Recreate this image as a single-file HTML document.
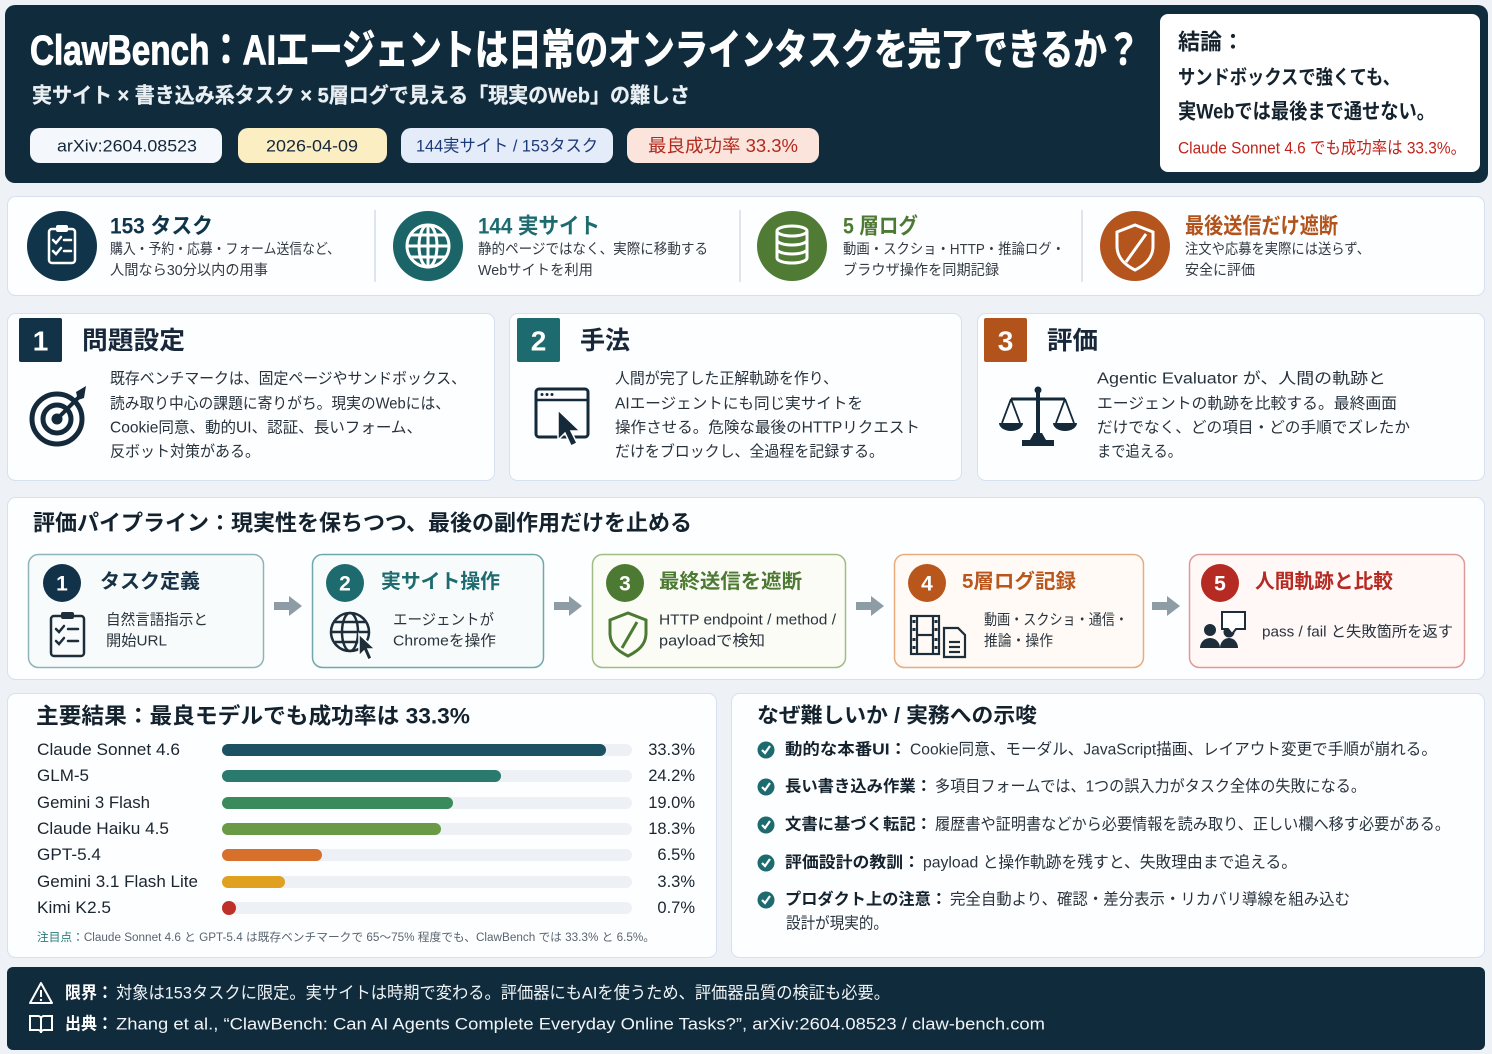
<!DOCTYPE html>
<html><head><meta charset="utf-8">
<style>
html,body{margin:0;padding:0;background:#eef2f6;}
svg{display:block;}
text{font-family:"Liberation Sans","Noto Sans CJK JP",sans-serif;dominant-baseline:central;}
.b{font-weight:700;}
</style></head>
<body>
<svg width="1492" height="1054" viewBox="0 0 1492 1054" xmlns="http://www.w3.org/2000/svg">
<rect x="0" y="0" width="1492" height="1054" fill="#eef2f6"/>

<!-- HEADER -->
<rect x="5" y="5" width="1483" height="178" rx="10" fill="#0f2b3c"/>
<text x="30" y="50" class="b" font-size="42" fill="#ffffff" stroke="#ffffff" stroke-width="1" textLength="1110" lengthAdjust="spacingAndGlyphs">ClawBench：AIエージェントは日常のオンラインタスクを完了できるか？</text>
<text x="32" y="96" class="b" font-size="21" fill="#e9eff3" stroke="#e9eff3" stroke-width="0.3" textLength="658" lengthAdjust="spacingAndGlyphs">実サイト × 書き込み系タスク × 5層ログで見える「現実のWeb」の難しさ</text>

<rect x="30" y="128" width="192" height="35" rx="10" fill="#f4f7fb"/>
<text x="57" y="146" font-size="17" fill="#14263a" textLength="140" lengthAdjust="spacingAndGlyphs">arXiv:2604.08523</text>
<rect x="238" y="128" width="149" height="35" rx="10" fill="#fbeec3"/>
<text x="266" y="146" font-size="17" fill="#14263a" textLength="92" lengthAdjust="spacingAndGlyphs">2026-04-09</text>
<rect x="401" y="128" width="212" height="35" rx="10" fill="#e5ecf9"/>
<text x="416" y="146" font-size="17" fill="#1d3a78" textLength="182" lengthAdjust="spacingAndGlyphs">144実サイト / 153タスク</text>
<rect x="627" y="128" width="192" height="35" rx="10" fill="#fbe4dc"/>
<text x="648" y="146" font-size="18" fill="#b22a1e" textLength="150" lengthAdjust="spacingAndGlyphs">最良成功率 33.3%</text>

<rect x="1160" y="14" width="320" height="158" rx="8" fill="#ffffff"/>
<text x="1178" y="42" class="b" font-size="22" fill="#14222e">結論：</text>
<text x="1178" y="78" class="b" font-size="20" fill="#14222e" textLength="222" lengthAdjust="spacingAndGlyphs">サンドボックスで強くても、</text>
<text x="1178" y="112" class="b" font-size="21" fill="#14222e" textLength="257" lengthAdjust="spacingAndGlyphs">実Webでは最後まで通せない。</text>
<text x="1178" y="148" font-size="17" fill="#c0241b" textLength="288" lengthAdjust="spacingAndGlyphs">Claude Sonnet 4.6 でも成功率は 33.3%。</text>

<!-- STATS ROW -->
<rect x="7.5" y="196.5" width="1477" height="99" rx="8" fill="#fdfeff" stroke="#d6e0ee"/>
<line x1="375" y1="210" x2="375" y2="282" stroke="#d5dde8" stroke-width="1.5"/>
<line x1="740" y1="210" x2="740" y2="282" stroke="#d5dde8" stroke-width="1.5"/>
<line x1="1082" y1="210" x2="1082" y2="282" stroke="#d5dde8" stroke-width="1.5"/>

<circle cx="62" cy="246" r="35" fill="#10344a"/>
<g stroke="#fff" stroke-width="2.5" fill="none" stroke-linecap="round">
<rect x="49" y="229" width="26" height="34" rx="3"/>
<polyline points="53,240 56,243 61,237"/><line x1="64" y1="240" x2="71" y2="240"/>
<polyline points="53,251 56,254 61,248"/><line x1="64" y1="251" x2="71" y2="251"/>
</g>
<rect x="56" y="225" width="12" height="7" rx="2" fill="#fff"/>

<circle cx="428" cy="246" r="35" fill="#1b6568"/>
<g stroke="#fff" stroke-width="3" fill="none">
<circle cx="428" cy="246" r="21"/><ellipse cx="428" cy="246" rx="9" ry="21"/>
<line x1="407" y1="246" x2="449" y2="246"/><line x1="428" y1="225" x2="428" y2="267"/>
<line x1="411" y1="235" x2="445" y2="235"/><line x1="411" y1="257" x2="445" y2="257"/>
</g>

<circle cx="792" cy="246" r="35" fill="#4f7b34"/>
<g stroke="#fff" stroke-width="3" fill="none">
<ellipse cx="792" cy="231" rx="15" ry="5"/>
<path d="M777,231 v27 a15,5 0 0 0 30,0 v-27"/>
<path d="M777,240 a15,5 0 0 0 30,0"/><path d="M777,249 a15,5 0 0 0 30,0"/>
</g>

<circle cx="1135" cy="246" r="35" fill="#b4551d"/>
<path d="M1135,225 L1153,232 V246 C1153,258 1145,265 1135,270 C1125,265 1117,258 1117,246 V232 Z" stroke="#fff" stroke-width="3" fill="none"/>
<line x1="1146" y1="234" x2="1126" y2="262" stroke="#fff" stroke-width="3"/>

<text x="110" y="226" class="b" font-size="22" fill="#10344a" textLength="103" lengthAdjust="spacingAndGlyphs">153 タスク</text>
<text x="110" y="250" font-size="14.5" fill="#333b44" textLength="230" lengthAdjust="spacingAndGlyphs">購入・予約・応募・フォーム送信など、</text>
<text x="110" y="271" font-size="14.5" fill="#333b44" textLength="158" lengthAdjust="spacingAndGlyphs">人間なら30分以内の用事</text>

<text x="478" y="226" class="b" font-size="22" fill="#1d6b6e" textLength="122" lengthAdjust="spacingAndGlyphs">144 実サイト</text>
<text x="478" y="250" font-size="14.5" fill="#333b44" textLength="230" lengthAdjust="spacingAndGlyphs">静的ページではなく、実際に移動する</text>
<text x="478" y="271" font-size="14.5" fill="#333b44" textLength="115" lengthAdjust="spacingAndGlyphs">Webサイトを利用</text>

<text x="843" y="226" class="b" font-size="22" fill="#4d7a33" textLength="75" lengthAdjust="spacingAndGlyphs">5 層ログ</text>
<text x="843" y="250" font-size="14.5" fill="#333b44" textLength="222" lengthAdjust="spacingAndGlyphs">動画・スクショ・HTTP・推論ログ・</text>
<text x="843" y="271" font-size="14.5" fill="#333b44" textLength="156" lengthAdjust="spacingAndGlyphs">ブラウザ操作を同期記録</text>

<text x="1185" y="226" class="b" font-size="22" fill="#b3531c" textLength="153" lengthAdjust="spacingAndGlyphs">最後送信だけ遮断</text>
<text x="1185" y="250" font-size="14.5" fill="#333b44" textLength="185" lengthAdjust="spacingAndGlyphs">注文や応募を実際には送らず、</text>
<text x="1185" y="271" font-size="14.5" fill="#333b44" textLength="70" lengthAdjust="spacingAndGlyphs">安全に評価</text>

<!-- CARDS -->
<rect x="7.5" y="313.5" width="487" height="167" rx="8" fill="#fdfeff" stroke="#d6e0ee"/>
<rect x="509.5" y="313.5" width="452" height="167" rx="8" fill="#fdfeff" stroke="#d6e0ee"/>
<rect x="977.5" y="313.5" width="507" height="167" rx="8" fill="#fdfeff" stroke="#d6e0ee"/>

<rect x="19" y="318" width="43" height="44" rx="2" fill="#123247"/>
<text x="40.5" y="341" class="b" font-size="28" fill="#fff" text-anchor="middle">1</text>
<text x="82" y="341" class="b" font-size="25" fill="#18283a" textLength="103" lengthAdjust="spacingAndGlyphs">問題設定</text>
<rect x="517" y="318" width="43" height="44" rx="2" fill="#1d6b6e"/>
<text x="538.5" y="341" class="b" font-size="28" fill="#fff" text-anchor="middle">2</text>
<text x="580" y="341" class="b" font-size="25" fill="#18283a" textLength="50" lengthAdjust="spacingAndGlyphs">手法</text>
<rect x="984" y="318" width="43" height="44" rx="2" fill="#b3531c"/>
<text x="1005.5" y="341" class="b" font-size="28" fill="#fff" text-anchor="middle">3</text>
<text x="1047" y="341" class="b" font-size="25" fill="#18283a" textLength="51" lengthAdjust="spacingAndGlyphs">評価</text>

<!-- target icon -->
<g stroke="#14293a" fill="none" stroke-width="5">
<circle cx="57" cy="419" r="25"/><circle cx="57" cy="419" r="14"/>
</g>
<circle cx="57" cy="419" r="5.5" fill="#14293a"/>
<line x1="57" y1="419" x2="80" y2="396" stroke="#14293a" stroke-width="4"/>
<polygon points="76,392 86,386 84,398 78,400" fill="#14293a"/>
<!-- browser icon -->
<rect x="536" y="389" width="52" height="48" rx="3" stroke="#14293a" stroke-width="3" fill="none"/>
<line x1="536" y1="400" x2="588" y2="400" stroke="#14293a" stroke-width="2.5"/>
<circle cx="542" cy="394.5" r="1.5" fill="#14293a"/><circle cx="547" cy="394.5" r="1.5" fill="#14293a"/><circle cx="552" cy="394.5" r="1.5" fill="#14293a"/>
<polygon points="558,410 558,440 565,433 571,446 577,443 571,431 580,431" fill="#14293a" stroke="#fff" stroke-width="1.5"/>
<!-- scale icon -->
<g fill="#14293a" stroke="#14293a">
<rect x="1036" y="391" width="4" height="49" stroke="none"/>
<circle cx="1038" cy="390" r="3.5" stroke="none"/>
<line x1="1011" y1="399" x2="1065" y2="399" stroke-width="3"/>
<rect x="1022" y="440" width="32" height="6" stroke="none"/>
<polygon points="1030,440 1046,440 1042,433 1034,433" stroke="none"/>
<line x1="1011" y1="399" x2="1002" y2="423" stroke-width="1.8"/><line x1="1011" y1="399" x2="1020" y2="423" stroke-width="1.8"/>
<line x1="1065" y1="399" x2="1056" y2="423" stroke-width="1.8"/><line x1="1065" y1="399" x2="1074" y2="423" stroke-width="1.8"/>
<path d="M999,423 a12,8 0 0 0 24,0 Z" stroke="none"/>
<path d="M1053,423 a12,8 0 0 0 24,0 Z" stroke="none"/>
</g>

<g font-size="15.5" fill="#28323c">
<text x="110" y="379" textLength="356" lengthAdjust="spacingAndGlyphs">既存ベンチマークは、固定ページやサンドボックス、</text>
<text x="110" y="404" textLength="340" lengthAdjust="spacingAndGlyphs">読み取り中心の課題に寄りがち。現実のWebには、</text>
<text x="110" y="428" textLength="312" lengthAdjust="spacingAndGlyphs">Cookie同意、動的UI、認証、長いフォーム、</text>
<text x="110" y="452" textLength="150" lengthAdjust="spacingAndGlyphs">反ボット対策がある。</text>
<text x="615" y="379" textLength="223" lengthAdjust="spacingAndGlyphs">人間が完了した正解軌跡を作り、</text>
<text x="615" y="404" textLength="248" lengthAdjust="spacingAndGlyphs">AIエージェントにも同じ実サイトを</text>
<text x="615" y="428" textLength="305" lengthAdjust="spacingAndGlyphs">操作させる。危険な最後のHTTPリクエスト</text>
<text x="615" y="452" textLength="269" lengthAdjust="spacingAndGlyphs">だけをブロックし、全過程を記録する。</text>
<text x="1097" y="379" textLength="289" lengthAdjust="spacingAndGlyphs">Agentic Evaluator が、人間の軌跡と</text>
<text x="1097" y="404" textLength="300" lengthAdjust="spacingAndGlyphs">エージェントの軌跡を比較する。最終画面</text>
<text x="1097" y="428" textLength="313" lengthAdjust="spacingAndGlyphs">だけでなく、どの項目・どの手順でズレたか</text>
<text x="1097" y="452" textLength="85" lengthAdjust="spacingAndGlyphs">まで追える。</text>
</g>

<!-- PIPELINE -->
<rect x="7.5" y="497.5" width="1477" height="182" rx="8" fill="#fdfeff" stroke="#d6e0ee"/>
<text x="33" y="523" class="b" font-size="22" fill="#14222e" textLength="659" lengthAdjust="spacingAndGlyphs">評価パイプライン：現実性を保ちつつ、最後の副作用だけを止める</text>

<rect x="28.5" y="554.5" width="235" height="113" rx="10" fill="#f8fbfb" stroke="#8fb3b8" stroke-width="1.5"/>
<rect x="312.5" y="554.5" width="231" height="113" rx="10" fill="#f7fbfb" stroke="#6fa8aa" stroke-width="1.5"/>
<rect x="592.5" y="554.5" width="253" height="113" rx="10" fill="#fbfcf6" stroke="#a2bb84" stroke-width="1.5"/>
<rect x="894.5" y="554.5" width="249" height="113" rx="10" fill="#fffaf5" stroke="#e8ab7c" stroke-width="1.5"/>
<rect x="1189.5" y="554.5" width="275" height="113" rx="10" fill="#fff8f7" stroke="#e09a96" stroke-width="1.5"/>

<g fill="#8e9ca5">
<polygon points="274,602 289,602 289,596 302,606 289,616 289,610 274,610"/>
<polygon points="554,602 569,602 569,596 582,606 569,616 569,610 554,610"/>
<polygon points="856,602 871,602 871,596 884,606 871,616 871,610 856,610"/>
<polygon points="1152,602 1167,602 1167,596 1180,606 1167,616 1167,610 1152,610"/>
</g>

<circle cx="62" cy="583" r="19" fill="#12324a"/><text x="62" y="584" class="b" font-size="21" fill="#fff" text-anchor="middle">1</text>
<circle cx="345" cy="583" r="19" fill="#1d6b6e"/><text x="345" y="584" class="b" font-size="21" fill="#fff" text-anchor="middle">2</text>
<circle cx="625" cy="583" r="19" fill="#4d7a33"/><text x="625" y="584" class="b" font-size="21" fill="#fff" text-anchor="middle">3</text>
<circle cx="927" cy="583" r="19" fill="#b8561c"/><text x="927" y="584" class="b" font-size="21" fill="#fff" text-anchor="middle">4</text>
<circle cx="1220" cy="583" r="19" fill="#b52a22"/><text x="1220" y="584" class="b" font-size="21" fill="#fff" text-anchor="middle">5</text>

<text x="100" y="582" class="b" font-size="20" fill="#173246" textLength="100" lengthAdjust="spacingAndGlyphs">タスク定義</text>
<text x="381" y="582" class="b" font-size="20" fill="#1d6b6e" textLength="119" lengthAdjust="spacingAndGlyphs">実サイト操作</text>
<text x="659" y="582" class="b" font-size="20" fill="#4d7a33" textLength="143" lengthAdjust="spacingAndGlyphs">最終送信を遮断</text>
<text x="962" y="582" class="b" font-size="20" fill="#b8561c" textLength="114" lengthAdjust="spacingAndGlyphs">5層ログ記録</text>
<text x="1255" y="582" class="b" font-size="20" fill="#b52a22" textLength="138" lengthAdjust="spacingAndGlyphs">人間軌跡と比較</text>

<g font-size="15" fill="#2a343e">
<text x="106" y="620" textLength="102" lengthAdjust="spacingAndGlyphs">自然言語指示と</text>
<text x="106" y="641" textLength="61" lengthAdjust="spacingAndGlyphs">開始URL</text>
<text x="393" y="620" textLength="101" lengthAdjust="spacingAndGlyphs">エージェントが</text>
<text x="393" y="641" textLength="103" lengthAdjust="spacingAndGlyphs">Chromeを操作</text>
<text x="659" y="620" textLength="177" lengthAdjust="spacingAndGlyphs">HTTP endpoint / method /</text>
<text x="659" y="641" textLength="106" lengthAdjust="spacingAndGlyphs">payloadで検知</text>
<text x="984" y="620" textLength="144" lengthAdjust="spacingAndGlyphs">動画・スクショ・通信・</text>
<text x="984" y="641" textLength="69" lengthAdjust="spacingAndGlyphs">推論・操作</text>
<text x="1262" y="632" textLength="191" lengthAdjust="spacingAndGlyphs">pass / fail と失敗箇所を返す</text>
</g>

<!-- pipeline icons -->
<g stroke="#1d2d3a" stroke-width="2.5" fill="none" stroke-linecap="round">
<rect x="51" y="616" width="33" height="40" rx="3"/>
<polyline points="56,629 59,632 64,626"/><line x1="68" y1="629" x2="78" y2="629"/>
<polyline points="56,641 59,644 64,638"/><line x1="68" y1="641" x2="78" y2="641"/>
</g>
<rect x="61" y="612" width="13" height="7" rx="2" fill="#1d2d3a"/>

<g stroke="#1d2d3a" stroke-width="2.5" fill="none">
<circle cx="350" cy="632" r="19"/><ellipse cx="350" cy="632" rx="8" ry="19"/>
<line x1="331" y1="632" x2="369" y2="632"/><line x1="335" y1="622" x2="365" y2="622"/><line x1="335" y1="642" x2="365" y2="642"/>
</g>
<polygon points="359,634 359,656 364,651 368,660 372,658 368,649 375,649" fill="#1d2d3a" stroke="#fff" stroke-width="1.5"/>

<path d="M628,613 L646,620 V633 C646,645 638,651 628,656 C618,651 610,645 610,633 V620 Z" stroke="#4d7a33" stroke-width="3" fill="none"/>
<line x1="637" y1="622" x2="622" y2="648" stroke="#4d7a33" stroke-width="3"/>

<g stroke="#1d2d3a" stroke-width="2.2" fill="none">
<rect x="911" y="616" width="28" height="38"/>
<line x1="917" y1="616" x2="917" y2="654"/><line x1="933" y1="616" x2="933" y2="654"/>
<line x1="917" y1="635" x2="933" y2="635"/>
<path d="M944,628 h14 l7,7 v22 h-21 Z"/>
<line x1="949" y1="642" x2="960" y2="642"/><line x1="949" y1="647" x2="960" y2="647"/><line x1="949" y1="652" x2="960" y2="652"/>
</g>
<g fill="#1d2d3a">
<rect x="912.5" y="620" width="3" height="3"/><rect x="912.5" y="628" width="3" height="3"/><rect x="912.5" y="638" width="3" height="3"/><rect x="912.5" y="646" width="3" height="3"/>
<rect x="934.5" y="620" width="3" height="3"/><rect x="934.5" y="628" width="3" height="3"/><rect x="934.5" y="638" width="3" height="3"/><rect x="934.5" y="646" width="3" height="3"/>
</g>

<g fill="#1d2d3a">
<circle cx="1210" cy="630" r="6"/><path d="M1200,648 a10,10 0 0 1 20,0 Z"/>
<circle cx="1229" cy="632" r="5.5"/><path d="M1220,648 a9,10 0 0 1 18,0 Z"/>
</g>
<path d="M1222,612 h23 v17 h-9 l-4,5 l-4,-5 h-6 Z" stroke="#1d2d3a" stroke-width="2" fill="#fff"/>

<!-- RESULTS -->
<rect x="7.5" y="693.5" width="709" height="264" rx="8" fill="#fdfeff" stroke="#d6e0ee"/>
<text x="36" y="716" class="b" font-size="22" fill="#14222e" textLength="434" lengthAdjust="spacingAndGlyphs">主要結果：最良モデルでも成功率は 33.3%</text>

<g font-size="16.5" fill="#1a2530">
<text x="37" y="750" textLength="143" lengthAdjust="spacingAndGlyphs">Claude Sonnet 4.6</text>
<text x="37" y="776" textLength="52" lengthAdjust="spacingAndGlyphs">GLM-5</text>
<text x="37" y="803" textLength="113" lengthAdjust="spacingAndGlyphs">Gemini 3 Flash</text>
<text x="37" y="829" textLength="132" lengthAdjust="spacingAndGlyphs">Claude Haiku 4.5</text>
<text x="37" y="855" textLength="64" lengthAdjust="spacingAndGlyphs">GPT-5.4</text>
<text x="37" y="882" textLength="161" lengthAdjust="spacingAndGlyphs">Gemini 3.1 Flash Lite</text>
<text x="37" y="908" textLength="74" lengthAdjust="spacingAndGlyphs">Kimi K2.5</text>
</g>
<g fill="#edf0f4">
<rect x="222" y="744" width="410" height="12" rx="6"/>
<rect x="222" y="770" width="410" height="12" rx="6"/>
<rect x="222" y="797" width="410" height="12" rx="6"/>
<rect x="222" y="823" width="410" height="12" rx="6"/>
<rect x="222" y="849" width="410" height="12" rx="6"/>
<rect x="222" y="876" width="410" height="12" rx="6"/>
<rect x="222" y="902" width="410" height="12" rx="6"/>
</g>
<rect x="222" y="744" width="384" height="12" rx="6" fill="#1b5163"/>
<rect x="222" y="770" width="279" height="12" rx="6" fill="#2b7a6e"/>
<rect x="222" y="797" width="231" height="12" rx="6" fill="#3b8a5c"/>
<rect x="222" y="823" width="219" height="12" rx="6" fill="#6a9a45"/>
<rect x="222" y="849" width="100" height="12" rx="6" fill="#d6702a"/>
<rect x="222" y="876" width="63" height="12" rx="6" fill="#e0a020"/>
<circle cx="229" cy="908" r="7" fill="#c0302a"/>

<g font-size="16.5" fill="#1a2530" text-anchor="end">
<text x="695" y="750">33.3%</text>
<text x="695" y="776">24.2%</text>
<text x="695" y="803">19.0%</text>
<text x="695" y="829">18.3%</text>
<text x="695" y="855">6.5%</text>
<text x="695" y="882">3.3%</text>
<text x="695" y="908">0.7%</text>
</g>
<text x="37" y="938" font-size="11.5" fill="#5a6570" textLength="618" lengthAdjust="spacingAndGlyphs"><tspan fill="#2a7a7a">注目点：</tspan>Claude Sonnet 4.6 と GPT-5.4 は既存ベンチマークで 65〜75% 程度でも、ClawBench では 33.3% と 6.5%。</text>

<!-- WHY HARD -->
<rect x="731.5" y="693.5" width="753" height="264" rx="8" fill="#fdfeff" stroke="#d6e0ee"/>
<text x="757" y="716" class="b" font-size="21" fill="#14222e" textLength="280" lengthAdjust="spacingAndGlyphs">なぜ難しいか / 実務への示唆</text>

<g>
<circle cx="766" cy="750" r="8.5" fill="#1d6b6e"/><polyline points="762,750 765,753 770,746" stroke="#fff" stroke-width="2.2" fill="none"/>
<circle cx="766" cy="787" r="8.5" fill="#1d6b6e"/><polyline points="762,787 765,790 770,783" stroke="#fff" stroke-width="2.2" fill="none"/>
<circle cx="766" cy="825" r="8.5" fill="#1d6b6e"/><polyline points="762,825 765,828 770,821" stroke="#fff" stroke-width="2.2" fill="none"/>
<circle cx="766" cy="863" r="8.5" fill="#1d6b6e"/><polyline points="762,863 765,866 770,859" stroke="#fff" stroke-width="2.2" fill="none"/>
<circle cx="766" cy="900" r="8.5" fill="#1d6b6e"/><polyline points="762,900 765,903 770,896" stroke="#fff" stroke-width="2.2" fill="none"/>
</g>
<g font-size="16" fill="#14222e">
<text x="785" y="750" class="b" textLength="122" lengthAdjust="spacingAndGlyphs">動的な本番UI：</text>
<text x="910" y="750" fill="#2a343e" textLength="527" lengthAdjust="spacingAndGlyphs">Cookie同意、モーダル、JavaScript描画、レイアウト変更で手順が崩れる。</text>
<text x="785" y="787" class="b" textLength="147" lengthAdjust="spacingAndGlyphs">長い書き込み作業：</text>
<text x="935" y="787" fill="#2a343e" textLength="431" lengthAdjust="spacingAndGlyphs">多項目フォームでは、1つの誤入力がタスク全体の失敗になる。</text>
<text x="785" y="825" class="b" textLength="147" lengthAdjust="spacingAndGlyphs">文書に基づく転記：</text>
<text x="935" y="825" fill="#2a343e" textLength="515" lengthAdjust="spacingAndGlyphs">履歴書や証明書などから必要情報を読み取り、正しい欄へ移す必要がある。</text>
<text x="785" y="863" class="b" textLength="135" lengthAdjust="spacingAndGlyphs">評価設計の教訓：</text>
<text x="923" y="863" fill="#2a343e" textLength="374" lengthAdjust="spacingAndGlyphs">payload と操作軌跡を残すと、失敗理由まで追える。</text>
<text x="785" y="900" class="b" textLength="162" lengthAdjust="spacingAndGlyphs">プロダクト上の注意：</text>
<text x="950" y="900" fill="#2a343e" textLength="400" lengthAdjust="spacingAndGlyphs">完全自動より、確認・差分表示・リカバリ導線を組み込む</text>
<text x="786" y="924" fill="#2a343e" textLength="102" lengthAdjust="spacingAndGlyphs">設計が現実的。</text>
</g>

<!-- FOOTER -->
<rect x="7" y="967" width="1478" height="83" rx="6" fill="#0f2b3c"/>
<path d="M41,983 L52,1003 L30,1003 Z" stroke="#fff" stroke-width="2" fill="none" stroke-linejoin="round"/>
<line x1="41" y1="990" x2="41" y2="997" stroke="#fff" stroke-width="2"/>
<circle cx="41" cy="1000" r="1.2" fill="#fff"/>
<path d="M30,1016 h8 a3,3 0 0 1 3,3 v14 a3,3 0 0 0 -3,-3 h-8 Z M52,1016 h-8 a3,3 0 0 0 -3,3 v14 a3,3 0 0 1 3,-3 h8 Z" stroke="#fff" stroke-width="2" fill="none"/>
<text x="65" y="993" class="b" font-size="17" fill="#fff" textLength="48" lengthAdjust="spacingAndGlyphs">限界：</text>
<text x="116" y="993" font-size="17" fill="#f0f4f6" textLength="774" lengthAdjust="spacingAndGlyphs">対象は153タスクに限定。実サイトは時期で変わる。評価器にもAIを使うため、評価器品質の検証も必要。</text>
<text x="65" y="1024" class="b" font-size="17" fill="#fff" textLength="48" lengthAdjust="spacingAndGlyphs">出典：</text>
<text x="116" y="1024" font-size="17" fill="#f0f4f6" textLength="929" lengthAdjust="spacingAndGlyphs">Zhang et al., “ClawBench: Can AI Agents Complete Everyday Online Tasks?”, arXiv:2604.08523 / claw-bench.com</text>
</svg>
</body></html>
